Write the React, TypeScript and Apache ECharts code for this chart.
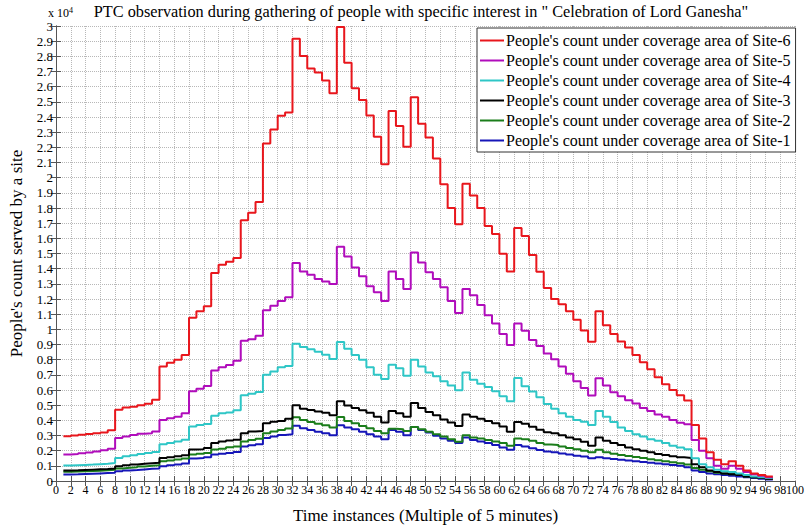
import React, { useEffect, useRef } from "react";
import * as echarts from "echarts";

// Time instances start at 1 (multiple of 5 minutes); each value holds for one instance.
const START_T = 1;

const site6 = [
  2950, 3000, 3050, 3100, 3150, 3200, 3350,
  4700, 4850, 4900, 5000, 5100, 5350,
  7550, 7800, 8000, 8300,
  10770, 11200, 11530,
  13710, 14260, 14460, 14700,
  17200, 17680, 18400,
  22250, 23170, 24080, 24300,
  29160, 28030, 27200, 26940, 26400, 25570,
  29930, 27570, 25900, 25120, 24100, 22690, 20880,
  24400, 23410, 22040,
  25310, 23560, 22650, 21270, 19570, 18000, 16930,
  19600, 18830, 18000, 16810, 16280, 14980, 13810,
  16680, 16160, 14900, 13800, 12730, 12000, 11650, 11200, 10630, 9930, 9180,
  11200, 10270, 9700, 9200, 8800, 8300, 7830, 7370, 6840, 6380, 6000, 5650, 5300,
  3700, 2800, 1900, 1400, 1100, 1300, 1000, 700, 500, 400, 300,
];

const site5 = [
  1740, 1780, 1830, 1880, 1950, 2030, 2130,
  2830, 2930, 3040, 3110, 3150, 3260,
  4020, 4130, 4240, 4460,
  5910, 6090, 6260,
  7280, 7500, 7650, 7930,
  9240, 9350, 9570,
  11260, 11550, 11860, 12120,
  14370, 13820, 13600, 13320, 13150, 12990,
  15440, 14800, 14080, 13500, 12840, 12450, 11860,
  13820, 13320, 12660,
  15070, 14410, 13760, 13320, 12780, 11860, 11080,
  12660, 12250, 11600, 10930, 10380, 9690, 8970,
  10380, 9900, 9300, 8900, 8400, 8030, 7550, 7070, 6570, 6130, 5630,
  6780, 6290, 5850, 5590, 5330, 5110, 4820, 4610, 4390, 4240, 4020, 3840, 3740,
  2700, 2000, 1500, 1000, 800, 1000, 800, 600, 450, 350, 250,
];

const site4 = [
  1020, 1040, 1060, 1080, 1110, 1140, 1180,
  1520, 1630, 1700, 1780, 1850, 1910,
  2430, 2500, 2600, 2720,
  3590, 3700, 3760,
  4300, 4460, 4520, 4670,
  5650, 5760, 5870,
  7000, 7220, 7500, 7580,
  9050, 8840, 8690, 8530, 8320, 8050,
  9160, 8720, 8310, 8000, 7500, 7000, 6720,
  7660, 7440, 6940,
  8000, 7550, 7160, 6900, 6570, 6290, 5980,
  7160, 6680, 6420, 6200, 5920, 5590, 5260,
  6790, 6250, 5900, 5530, 5080, 4760, 4460, 4240, 4020, 3900, 3700,
  4610, 4240, 3890, 3520, 3300, 3080, 2930, 2760, 2650, 2500, 2320, 2210, 2100,
  1500, 1100, 900, 750, 650, 600, 500, 400, 300, 250, 200,
];

const site3 = [
  700, 710, 730, 750, 770, 790, 830,
  980, 1040, 1090, 1130, 1170, 1200,
  1520, 1570, 1630, 1700,
  2070, 2100, 2170,
  2500, 2600, 2670, 2720,
  3150, 3260, 3300,
  3800, 3910, 3960, 4100,
  4990, 4760, 4680, 4590, 4500, 4330,
  5260, 4980, 4820, 4660, 4500, 4240, 3850,
  4610, 4460, 4240,
  5150, 4820, 4550, 4330, 4060, 3850, 3630,
  4390, 4240, 4110, 3950, 3800, 3590, 3240,
  3890, 3770, 3580, 3380, 3220, 3150, 3020, 2870, 2760, 2590, 2320,
  2870, 2650, 2500, 2370, 2210, 2100, 2000, 1890, 1780, 1710, 1630, 1560, 1520,
  1100, 900, 700, 600, 500, 450, 400, 300, 250, 200, 150,
];

const site2 = [
  610, 620, 640, 660, 680, 710, 740,
  830, 870, 910, 960, 1000, 1040,
  1300, 1350, 1410, 1480,
  1740, 1800, 1850,
  2070, 2130, 2220, 2280,
  2600, 2700, 2780,
  3150, 3260, 3370, 3460,
  4200, 4020, 3890, 3780, 3670, 3520,
  4220, 3950, 3800, 3630, 3480, 3300, 3150,
  3450, 3410, 3300,
  3560, 3410, 3240, 3080, 2930, 2760, 2590,
  3020, 2870, 2800, 2710, 2600, 2500, 2320,
  2800, 2750, 2650, 2500, 2400, 2370, 2280, 2170, 2100, 2000, 1890,
  2060, 1890, 1800, 1720, 1650, 1580, 1510, 1440, 1370, 1300, 1240, 1170, 1080,
  850, 750, 650, 550, 500, 450, 400, 300, 250, 200, 150,
];

const site1 = [
  430, 440, 460, 480, 500, 520, 540,
  650, 700, 720, 760, 800, 830,
  980, 1040, 1090, 1150,
  1480, 1520, 1570,
  1740, 1800, 1850, 1910,
  2280, 2350, 2430,
  2830, 2930, 3040, 3080,
  3650, 3480, 3370, 3240, 3150, 3020,
  3670, 3520, 3410, 3240, 3080, 2930, 2760,
  3370, 3240, 3020,
  3560, 3370, 3190, 2980, 2800, 2650, 2500,
  2870, 2710, 2600, 2500, 2370, 2210, 2060,
  2370, 2280, 2160, 2040, 1950, 1890, 1820, 1740, 1670, 1610, 1500,
  1560, 1500, 1450, 1400, 1350, 1300, 1250, 1200, 1150, 1100, 1050, 1000, 900,
  700, 600, 500, 450, 400, 350, 300, 250, 200, 150, 100,
];

const seriesNames = [
  "People's count under coverage area of Site-6",
  "People's count under coverage area of Site-5",
  "People's count under coverage area of Site-4",
  "People's count under coverage area of Site-3",
  "People's count under coverage area of Site-2",
  "People's count under coverage area of Site-1",
];
const seriesValues = [site6, site5, site4, site3, site2, site1];
const seriesColors = ["#e8161c", "#b00cbb", "#2ec6c6", "#000000", "#1b7d1b", "#1616b8"];

const X_MIN = 0;
const X_MAX = 100;
const X_STEP = 2;
const Y_MIN = 0;
const Y_MAX = 30000;
const Y_STEP = 1000;

const TITLE = 'PTC observation during gathering of people with specific interest in " Celebration of Lord Ganesha"';
const X_NAME = "Time instances (Multiple of 5 minutes)";
const Y_NAME = "People's count served by a site";

const SERIF = "Liberation Serif";

function toSteps(vals: number[]) {
  const pts: number[][] = vals.map((v, i) => [START_T + i, v]);
  pts.push([START_T + vals.length, vals[vals.length - 1]]);
  return pts;
}

export default function App() {
  const ref = useRef<HTMLDivElement>(null);
  useEffect(() => {
    if (!ref.current) return;
    const chart = echarts.init(ref.current, undefined, { renderer: "svg" });
    const axisColor = "#555";
    const grid = { left: 47, right: 12, top: 26, bottom: 44 };
    const order = [5, 4, 3, 2, 1, 0];
    const baseX = {
      type: "value",
      min: X_MIN,
      max: X_MAX,
      interval: X_STEP,
    };
    chart.setOption({
      animation: false,
      backgroundColor: "#fff",
      textStyle: { fontFamily: SERIF },
      graphic: [
        {
          type: "text",
          x: 421,
          y: 11,
          style: {
            text: TITLE,
            fontFamily: SERIF,
            fontSize: 16.3,
            fill: "#000",
            align: "center",
            verticalAlign: "middle",
          },
        },
        {
          type: "text",
          left: 48,
          top: 6,
          style: {
            text: "x 10{sup|4}",
            fontFamily: SERIF,
            fontSize: 12,
            fill: "#000",
            rich: { sup: { fontSize: 8, verticalAlign: "top", padding: [0, 0, 6, 0], fontFamily: SERIF } },
          },
        },
      ],
      legend: {
        data: seriesNames,
        orient: "vertical",
        left: 477,
        top: 28,
        padding: [4, 5, 3, 3],
        itemGap: 3,
        icon: "rect",
        itemWidth: 24,
        itemHeight: 2,
        backgroundColor: "#fff",
        borderColor: "#333",
        borderWidth: 1,
        textStyle: { fontFamily: SERIF, fontSize: 16, color: "#000", lineHeight: 17, padding: [0, 0, 0, -3] },
      },
      grid,
      xAxis: [
        {
          ...baseX,
          name: X_NAME,
          nameLocation: "middle",
          nameGap: 26,
          nameTextStyle: { fontFamily: SERIF, fontSize: 17, color: "#000" },
          axisLine: { show: true, lineStyle: { color: axisColor } },
          axisTick: { show: true, inside: true, length: 5, lineStyle: { color: axisColor } },
          axisLabel: { fontFamily: SERIF, fontSize: 12, color: "#000", margin: 3, showMinLabel: true, showMaxLabel: false },
          splitLine: { show: true, lineStyle: { type: "dotted", color: "#b8b8b8" } },
        },
        {
          ...baseX,
          position: "top",
          axisLine: { show: true, lineStyle: { color: axisColor } },
          axisTick: { show: true, inside: true, length: 5, lineStyle: { color: axisColor } },
          axisLabel: { show: false },
          splitLine: { show: false },
        },
        {
          ...baseX,
          position: "bottom",
          axisLine: { show: false },
          axisTick: { show: false },
          splitLine: { show: false },
          axisLabel: {
            fontFamily: SERIF,
            fontSize: 12,
            color: "#000",
            margin: 3,
            showMinLabel: false,
            showMaxLabel: true,
            formatter: (v: number) => (v === X_MAX ? String(v) : ""),
          },
        },
      ],
      yAxis: [
        {
          type: "value",
          min: Y_MIN,
          max: Y_MAX,
          interval: Y_STEP,
          name: Y_NAME,
          nameLocation: "middle",
          nameGap: 31,
          nameTextStyle: { fontFamily: SERIF, fontSize: 17, color: "#000" },
          axisLine: { show: true, lineStyle: { color: axisColor } },
          axisTick: { show: true, inside: true, length: 5, lineStyle: { color: axisColor } },
          axisLabel: {
            fontFamily: SERIF,
            fontSize: 13,
            color: "#000",
            margin: 3,
            formatter: (v: number) => String(Math.round(v / 1000) / 10),
          },
          splitLine: { show: true, lineStyle: { type: "dotted", color: "#b8b8b8" } },
        },
        {
          type: "value",
          position: "right",
          min: Y_MIN,
          max: Y_MAX,
          interval: Y_STEP,
          axisLine: { show: true, lineStyle: { color: axisColor } },
          axisTick: { show: true, inside: true, length: 5, lineStyle: { color: axisColor } },
          axisLabel: { show: false },
          splitLine: { show: false },
        },
      ],
      series: order.map((i) => ({
        name: seriesNames[i],
        type: "line",
        step: "end",
        symbol: "none",
        data: toSteps(seriesValues[i]),
        itemStyle: { color: seriesColors[i] },
        lineStyle: { color: seriesColors[i], width: 2 },
        z: 10 - i,
      })),
    });
    return () => chart.dispose();
  }, []);
  return <div ref={ref} style={{ width: 807, height: 529, position: "absolute", left: 0, top: 0 }} />;
}
